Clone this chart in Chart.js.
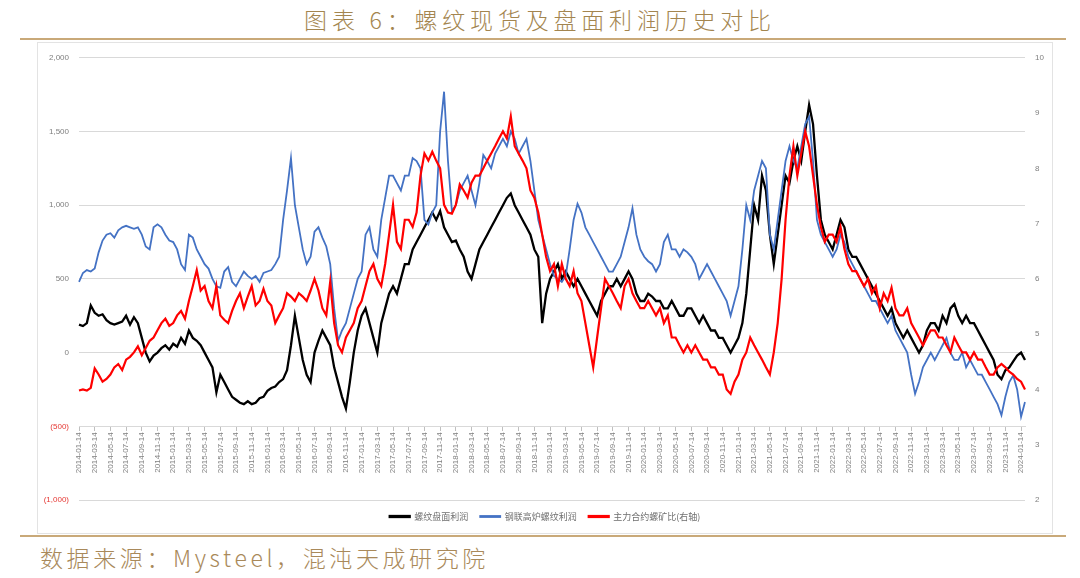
<!DOCTYPE html>
<html lang="zh">
<head>
<meta charset="UTF-8">
<title>螺纹现货及盘面利润历史对比</title>
<style>
    body {
        margin: 0;
        padding: 0;
        background: #fff;
        width: 1080px;
        height: 578px;
        position: relative;
        overflow: hidden;
        font-family: 'Noto Sans CJK SC', sans-serif;
    }
    .title {
        position: absolute;
        left: 0;
        top: 2px;
        width: 1080px;
        text-align: center;
        font-size: 23px;
        font-weight: 300;
        letter-spacing: 4.8px;
        color: #a3854f;
    }
    .rule {
        position: absolute;
        left: 20px;
        width: 1046px;
        height: 2px;
        background: #c9a979;
    }
    .chart-wrap {
        position: absolute;
        left: 37px;
        top: 42px;
        width: 1014px;
        height: 490px;
        border: 1px solid #e3e3e3;
    }
    .source {
        position: absolute;
        left: 40px;
        top: 540px;
        font-size: 23px;
        font-weight: 300;
        letter-spacing: 3.6px;
        color: #a9895a;
    }
</style>
</head>
<body>
    <div class="title">图表 6：螺纹现货及盘面利润历史对比</div>
    <div class="rule" style="top:38px"></div>
    <div class="chart-wrap">
        <canvas id="chart" width="1014" height="490"></canvas>
    </div>
    <div class="rule" style="top:535px"></div>
    <div class="source">数据来源：Mysteel，混沌天成研究院</div>

    <script src="https://cdn.jsdelivr.net/npm/chart.js@4/dist/chart.umd.min.js"></script>
    <script>
    // 半月一个点，2014-01 ~ 2024-01
    var seriesNames = ['螺纹盘面利润', '钢联高炉螺纹利润', '主力合约螺矿比(右轴)'];

    // 螺纹盘面利润 (左轴)
    var panmian = [
        190,180, 200,320, 270,250, 260,220, 200,190, 200,210, 250,190, 240,200, 100,0, -60,-20, 0,30, 50,20,
        60,40, 100,60, 150,100, 80,50, 0,-50, -100,-270, -150,-200, -250,-300, -320,-340, -350,-330, -350,-340, -310,-300,
        -260,-240, -230,-200, -180,-120, 50,250, 100,-50, -150,-200, 0,80, 150,100, 50,-100, -200,-300, -380,-200, 0,150,
        250,300, 200,100, 0,200, 300,400, 450,400, 500,600, 600,700, 750,800, 850,900, 950,900, 960,850, 800,750,
        760,700, 650,550, 500,600, 700,750, 800,850, 900,950, 1000,1050, 1080,1000, 950,900, 850,800, 700,650, 200,400,
        500,550, 600,500, 550,500, 450,500, 450,400, 350,300, 250,350, 400,450, 450,500, 450,500, 550,500, 400,350,
        350,400, 380,350, 350,300, 300,350, 300,250, 250,300, 300,250, 200,250, 200,150, 150,100, 100,50, 0,50,
        100,200, 400,700, 1000,900, 1200,1100, 800,600, 800,1000, 1200,1150, 1300,1400, 1300,1500, 1680,1550, 1200,900, 800,750,
        700,800, 900,850, 700,650, 650,600, 550,500, 450,400, 350,300, 250,300, 200,150, 100,150, 100,50, 0,50,
        150,200, 200,150, 250,200, 300,330, 250,200, 250,200, 200,150, 100,50, 0,-50, -150,-180, -120,-100, -60,-20,
        0,-50
    ];

    // 钢联高炉螺纹利润 (左轴)
    var gaolu = [
        480,540, 560,550, 570,680, 760,800, 810,780, 830,850, 860,850, 840,850, 800,720, 700,850, 870,850, 800,760,
        750,700, 600,560, 800,780, 700,650, 600,570, 500,450, 440,550, 580,480, 450,500, 550,520, 500,520, 480,540,
        550,560, 600,650, 900,1100, 1320,1000, 850,700, 600,650, 820,850, 780,720, 600,300, 80,150, 200,300, 400,500,
        550,800, 850,700, 650,900, 1050,1200, 1200,1150, 1100,1200, 1200,1320, 1300,1250, 900,870, 950,1000, 1500,1770, 1300,960,
        1000,1100, 1150,1200, 1100,1000, 1150,1340, 1300,1250, 1350,1400, 1450,1400, 1500,1450, 1350,1400, 1450,1300, 1100,900, 800,700,
        600,520, 500,480, 520,700, 900,1010, 950,850, 800,750, 700,650, 600,550, 550,600, 650,750, 850,980, 800,700,
        650,620, 600,550, 600,750, 800,700, 700,650, 700,680, 650,600, 500,550, 600,550, 500,450, 400,350, 250,350,
        450,700, 1000,900, 1100,1200, 1300,1250, 800,700, 900,1100, 1300,1400, 1300,1250, 1400,1550, 1600,1300, 900,800, 750,700,
        650,700, 800,750, 650,600, 550,500, 450,400, 350,350, 300,250, 200,250, 150,100, 50,0, -150,-280, -200,-100,
        -50,0, -50,0, 50,100, 0,-50, -50,0, -100,-50, -100,-150, -150,-200, -250,-300, -350,-425, -300,-200, -155,-250,
        -435,-335
    ];

    // 主力合约螺矿比 (右轴)
    var luokuang = [
        3.98,4.0, 3.98,4.03, 4.38,4.27, 4.14,4.19, 4.27,4.4, 4.46,4.35, 4.54,4.59, 4.67,4.78, 4.62,4.75, 4.88,4.94, 5.07,5.2, 5.28,5.15,
        5.2,5.34, 5.42,5.28, 5.6,5.87, 6.16,5.79, 5.87,5.6, 5.47,5.87, 5.34,5.26, 5.2,5.42, 5.6,5.74, 5.47,5.68, 5.87,5.52, 5.6,5.82,
        5.6,5.52, 5.2,5.34, 5.47,5.74, 5.68,5.6, 5.74,5.68, 5.6,5.79, 6.0,5.79, 5.47,5.34, 5.95,5.2, 4.8,4.67, 4.94,5.07, 5.2,5.47,
        5.6,5.87, 6.14,6.27, 6.0,5.87, 6.27,6.8, 7.34,6.67, 6.54,7.07, 7.07,6.94, 7.2,7.87, 8.27,8.14, 8.3,8.14, 8.0,7.34, 7.2,7.18,
        7.34,7.71, 7.6,7.47, 7.74,7.87, 7.87,8.0, 8.14,8.27, 8.4,8.54, 8.67,8.54, 8.94,8.4, 8.27,8.14, 8.0,7.6, 7.47,7.2, 6.8,6.4,
        6.14,6.27, 5.87,6.27, 6.0,5.87, 6.14,5.74, 5.6,5.2, 4.8,4.4, 4.94,5.47, 6.0,5.87, 5.74,5.6, 5.47,5.87, 6.0,5.74, 5.6,5.47,
        5.47,5.6, 5.47,5.34, 5.47,5.2, 5.34,4.94, 4.94,4.8, 4.67,4.8, 4.67,4.8, 4.67,4.54, 4.54,4.4, 4.4,4.27, 4.27,4.0, 3.92,4.14,
        4.27,4.54, 4.67,4.94, 4.8,4.67, 4.54,4.4, 4.27,4.67, 5.2,6.0, 7.07,7.87, 8.4,7.87, 8.27,8.67, 8.4,7.87, 7.34,6.94, 6.67,6.8,
        6.8,6.67, 6.94,6.54, 6.27,6.14, 6.14,6.0, 5.87,6.0, 5.74,5.87, 5.47,5.74, 5.6,5.84, 5.47,5.34, 5.34,5.47, 5.2,5.07, 4.94,4.8,
        4.94,5.07, 5.07,4.94, 4.94,4.8, 4.67,4.94, 4.8,4.67, 4.67,4.54, 4.67,4.54, 4.54,4.4, 4.27,4.27, 4.4,4.46, 4.4,4.32, 4.27,4.19,
        4.14,4.0
    ];

    var leftTicks = [2000, 1500, 1000, 500, 0, -500, -1000];
    var rightTicks = [10, 9, 8, 7, 6, 5, 4, 3, 2];

    // 日期标签：每月 14 日、29 日两个点
    var dates = [];
    for (var i = 0; i < panmian.length; i++) {
        var m = Math.floor(i / 2);
        var y = 2014 + Math.floor(m / 12);
        var mm = (m % 12) + 1;
        dates.push(y + '-' + (mm < 10 ? '0' : '') + mm + '-' + (i % 2 === 0 ? '14' : '29'));
    }

    var axisFont = { family: "'Liberation Sans', sans-serif", size: 8 };

    function fmt(v) {
        var s = Math.abs(v).toLocaleString('en-US');
        return v < 0 ? '(' + s + ')' : s;
    }

    var ctx = document.getElementById('chart').getContext('2d');
    new Chart(ctx, {
        type: 'line',
        data: {
            labels: dates,
            datasets: [
                { label: seriesNames[0], data: panmian, yAxisID: 'y', borderColor: '#000', backgroundColor: '#000', borderWidth: 2.3, order: 3 },
                { label: seriesNames[1], data: gaolu, yAxisID: 'y', borderColor: '#4472c4', backgroundColor: '#4472c4', borderWidth: 1.8, order: 2 },
                { label: seriesNames[2], data: luokuang, yAxisID: 'y1', borderColor: '#ff0000', backgroundColor: '#ff0000', borderWidth: 2.2, order: 1 }
            ]
        },
        options: {
            responsive: false,
            animation: false,
            elements: { point: { radius: 0 }, line: { tension: 0 } },
            layout: { padding: { top: 9, right: 0, bottom: 2, left: 0 } },
            plugins: {
                tooltip: { enabled: false },
                legend: {
                    position: 'bottom',
                    labels: {
                        boxWidth: 20,
                        boxHeight: 1,
                        padding: 12,
                        color: '#6f6f6f',
                        font: { family: "'Noto Sans CJK SC', sans-serif", size: 9 },
                        sort: function(a, b) { return a.datasetIndex - b.datasetIndex; }
                    }
                }
            },
            scales: {
                x: {
                    type: 'category',
                    position: { y: -500 },
                    grid: { drawOnChartArea: false, drawTicks: true, tickLength: 4, color: '#bfbfbf' },
                    border: { display: true, color: '#d9d9d9' },
                    ticks: {
                        autoSkip: false,
                        minRotation: 90,
                        maxRotation: 90,
                        padding: 2,
                        color: '#7f7f7f',
                        font: axisFont,
                        callback: function(value, index) {
                            return index % 4 === 0 ? this.getLabelForValue(value) : null;
                        }
                    }
                },
                y: {
                    position: 'left',
                    min: -1000,
                    max: 2000,
                    afterBuildTicks: function(scale) {
                        scale.ticks = leftTicks.map(function(v) { return { value: v }; });
                    },
                    afterFit: function(scale) { scale.width = 41; },
                    grid: { color: '#d9d9d9', drawTicks: false },
                    border: { display: false },
                    ticks: {
                        padding: 10,
                        font: axisFont,
                        color: function(c) { return c.tick.value < 0 ? '#e53935' : '#7f7f7f'; },
                        callback: function(v) { return fmt(v); }
                    }
                },
                y1: {
                    position: 'right',
                    min: 2,
                    max: 10,
                    afterBuildTicks: function(scale) {
                        scale.ticks = rightTicks.map(function(v) { return { value: v }; });
                    },
                    afterFit: function(scale) { scale.width = 27; },
                    grid: { drawOnChartArea: false, drawTicks: false },
                    border: { display: false },
                    ticks: { padding: 10, font: axisFont, color: '#7f7f7f' }
                }
            }
        }
    });
    </script>
</body>
</html>
